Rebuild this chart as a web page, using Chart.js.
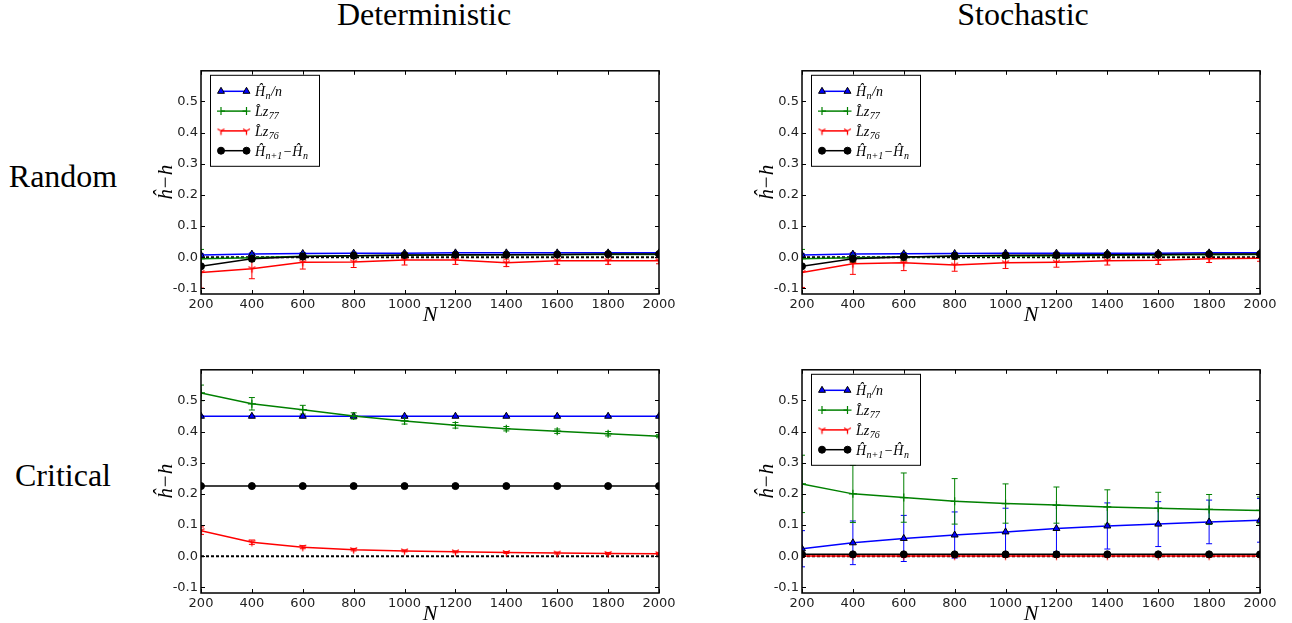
<!DOCTYPE html>
<html>
<head>
<meta charset="utf-8">
<script src="https://cdn.jsdelivr.net/npm/chart.js@4.4.1/dist/chart.umd.min.js"></script>
<style>
  body { margin: 0; background: #fff; width: 1292px; height: 623px; position: relative; overflow: hidden; }
  .lbl { position: absolute; font-family: "Liberation Serif", serif; font-size: 32px; line-height: 32px; white-space: nowrap; color: #000; text-align: center; }
  canvas { position: absolute; }
</style>
</head>
<body>
<div class="lbl" style="left:324px; top:-2px; width:200px;">Deterministic</div>
<div class="lbl" style="left:923px; top:-2px; width:200px;">Stochastic</div>
<div class="lbl" style="left:-7px; top:160px; width:140px;">Random</div>
<div class="lbl" style="left:-7px; top:459px; width:140px;">Critical</div>

<canvas id="c0"></canvas>
<canvas id="c1"></canvas>
<canvas id="c2"></canvas>
<canvas id="c3"></canvas>

<script>
// --- data ---
var Ns = [200, 400, 600, 800, 1000, 1200, 1400, 1600, 1800, 2000];
var xTicks = [200, 400, 600, 800, 1000, 1200, 1400, 1600, 1800, 2000];
var yTicks = [-0.1, 0.0, 0.1, 0.2, 0.3, 0.4, 0.5];
var zeroX = [200, 2000];
var zeroY = [0, 0];

// Random, deterministic
var rdHn      = [0.007, 0.010, 0.012, 0.013, 0.013, 0.014, 0.014, 0.014, 0.014, 0.014];
var rdHnErr   = [0.004, 0.004, 0.003, 0.003, 0.002, 0.002, 0.002, 0.002, 0.002, 0.002];
var rdLz77    = [-0.005, -0.002, 0.003, 0.005, 0.006, 0.007, 0.008, 0.008, 0.009, 0.009];
var rdLz77Err = [0.030, 0.012, 0.010, 0.008, 0.007, 0.006, 0.006, 0.005, 0.005, 0.005];
var rdLz76    = [-0.049, -0.037, -0.016, -0.015, -0.009, -0.009, -0.018, -0.011, -0.011, -0.011];
var rdLz76Err = [0.050, 0.032, 0.022, 0.018, 0.016, 0.014, 0.012, 0.012, 0.012, 0.010];
var rdDiff    = [-0.029, -0.005, 0.002, 0.005, 0.007, 0.008, 0.008, 0.009, 0.010, 0.010];
var rdDiffErr = [0.003, 0.003, 0.002, 0.002, 0.002, 0.002, 0.002, 0.002, 0.002, 0.002];

// Random, stochastic
var rsHn      = [0.007, 0.010, 0.011, 0.012, 0.013, 0.013, 0.013, 0.013, 0.014, 0.014];
var rsHnErr   = [0.004, 0.004, 0.003, 0.003, 0.002, 0.002, 0.002, 0.002, 0.002, 0.002];
var rsLz77    = [-0.005, -0.002, 0.001, 0.003, 0.004, 0.005, 0.006, 0.007, 0.008, 0.009];
var rsLz77Err = [0.030, 0.015, 0.012, 0.010, 0.008, 0.007, 0.006, 0.006, 0.005, 0.005];
var rsLz76    = [-0.049, -0.021, -0.018, -0.025, -0.018, -0.016, -0.011, -0.010, -0.005, -0.003];
var rsLz76Err = [0.048, 0.034, 0.025, 0.020, 0.018, 0.016, 0.014, 0.013, 0.012, 0.010];
var rsDiff    = [-0.029, -0.005, 0.001, 0.004, 0.006, 0.007, 0.008, 0.009, 0.010, 0.010];
var rsDiffErr = [0.003, 0.003, 0.002, 0.002, 0.002, 0.002, 0.002, 0.002, 0.002, 0.002];

// Critical, deterministic
var cdHn      = [0.449, 0.449, 0.449, 0.449, 0.449, 0.449, 0.449, 0.449, 0.449, 0.449];
var cdHnErr   = [0.002, 0.002, 0.002, 0.002, 0.002, 0.002, 0.002, 0.002, 0.002, 0.002];
var cdLz77    = [0.524, 0.489, 0.470, 0.450, 0.434, 0.420, 0.409, 0.401, 0.393, 0.385];
var cdLz77Err = [0.025, 0.020, 0.014, 0.010, 0.010, 0.009, 0.007, 0.007, 0.007, 0.005];
var cdLz76    = [0.082, 0.045, 0.029, 0.021, 0.017, 0.014, 0.012, 0.010, 0.009, 0.008];
var cdLz76Err = [0.012, 0.007, 0.005, 0.004, 0.003, 0.003, 0.003, 0.003, 0.003, 0.003];
var cdDiff    = [0.225, 0.225, 0.225, 0.225, 0.225, 0.225, 0.225, 0.225, 0.225, 0.225];
var cdDiffErr = [0.001, 0.001, 0.001, 0.001, 0.001, 0.001, 0.001, 0.001, 0.001, 0.001];

// Critical, stochastic
var csHn      = [0.024, 0.043, 0.057, 0.068, 0.078, 0.089, 0.097, 0.103, 0.110, 0.115];
var csHnErr   = [0.058, 0.070, 0.074, 0.074, 0.076, 0.074, 0.074, 0.072, 0.070, 0.070];
var csLz77    = [0.232, 0.200, 0.188, 0.176, 0.169, 0.164, 0.158, 0.154, 0.150, 0.147];
var csLz77Err = [0.092, 0.092, 0.079, 0.073, 0.063, 0.058, 0.055, 0.051, 0.048, 0.043];
var csLz76    = [0.001, 0.001, 0.001, 0.001, 0.001, 0.001, 0.001, 0.001, 0.001, 0.001];
var csLz76Err = [0.005, 0.005, 0.005, 0.005, 0.005, 0.005, 0.005, 0.005, 0.005, 0.005];
var csDiff    = [0.006, 0.006, 0.006, 0.006, 0.006, 0.006, 0.006, 0.006, 0.006, 0.006];
var csDiffErr = [0.001, 0.001, 0.001, 0.001, 0.001, 0.001, 0.001, 0.001, 0.001, 0.001];

var seriesNames = ['Ĥn/n', 'L̂z77', 'L̂z76', 'Ĥn+1−Ĥn'];
// legend text pieces: [text, subscript?]
var legendLabels = [
    [['Ĥ', 0], ['n', 1], ['/n', 0]],
    [['L\u0302z', 0], ['77', 1]],
    [['L\u0302z', 0], ['76', 1]],
    [['Ĥ', 0], ['n+1', 1], ['−Ĥ', 0], ['n', 1]]
];

// --- layout ---
var PLOT_W = 458, PLOT_H = 224;
var Y_W = 50, X_H = 34, PAD_T = 10, PAD_R = 24;

function triDown(color, r) {
    var c = document.createElement('canvas');
    var s = Math.ceil(r * 2 + 3);
    c.width = s; c.height = s;
    var g = c.getContext('2d');
    var m = s / 2;
    g.strokeStyle = color;
    g.lineWidth = 1.3;
    g.beginPath();
    g.moveTo(m, m); g.lineTo(m, m + r);
    g.moveTo(m, m); g.lineTo(m - r * 0.866, m - r * 0.5);
    g.moveTo(m, m); g.lineTo(m + r * 0.866, m - r * 0.5);
    g.stroke();
    return c;
}

var styles = [
    {color: '#0000ff', pointStyle: 'triangle', radius: 4, fill: '#0000ff', edge: '#000000', edgeW: 1},
    {color: '#008000', pointStyle: 'cross', radius: 4, fill: '#008000', edge: '#008000', edgeW: 1.2},
    {color: '#ff0000', pointStyle: triDown('#ff0000', 4), radius: 4, fill: '#ff0000', edge: '#ff0000', edgeW: 1},
    {color: '#000000', pointStyle: 'circle', radius: 3.5, fill: '#000000', edge: '#000000', edgeW: 1}
];

function pts(ys) {
    return Ns.map(function(n, i) { return {x: n, y: ys[i]}; });
}

// error bars drawn under the lines
var errorBars = {
    id: 'errorBars',
    beforeDatasetsDraw: function(chart) {
        var ctx = chart.ctx, a = chart.chartArea, ys = chart.scales.y;
        ctx.save();
        ctx.beginPath();
        ctx.rect(a.left, a.top, a.right - a.left, a.bottom - a.top);
        ctx.clip();
        chart.data.datasets.forEach(function(ds, i) {
            if (!ds.errors) return;
            var meta = chart.getDatasetMeta(i);
            ctx.strokeStyle = ds.borderColor;
            ctx.lineWidth = 1;
            meta.data.forEach(function(p, j) {
                var v = ds.data[j].y, e = ds.errors[j];
                var y1 = ys.getPixelForValue(v - e), y2 = ys.getPixelForValue(v + e);
                ctx.beginPath();
                ctx.moveTo(p.x, y1); ctx.lineTo(p.x, y2);
                ctx.moveTo(p.x - 3, y1); ctx.lineTo(p.x + 3, y1);
                ctx.moveTo(p.x - 3, y2); ctx.lineTo(p.x + 3, y2);
                ctx.stroke();
            });
        });
        ctx.restore();
    }
};

// matplotlib-like frame with inward ticks on all sides
var frame = {
    id: 'frame',
    afterDatasetsDraw: function(chart) {
        var ctx = chart.ctx, a = chart.chartArea, xs = chart.scales.x, ys = chart.scales.y;
        ctx.save();
        ctx.strokeStyle = '#000';
        ctx.lineWidth = 1;
        ctx.beginPath();
        xTicks.forEach(function(v) {
            var px = Math.round(xs.getPixelForValue(v)) + 0.5;
            ctx.moveTo(px, a.bottom); ctx.lineTo(px, a.bottom - 4);
            ctx.moveTo(px, a.top); ctx.lineTo(px, a.top + 4);
        });
        yTicks.forEach(function(v) {
            var py = Math.round(ys.getPixelForValue(v)) + 0.5;
            ctx.moveTo(a.left, py); ctx.lineTo(a.left + 4, py);
            ctx.moveTo(a.right, py); ctx.lineTo(a.right - 4, py);
        });
        ctx.stroke();
        ctx.lineWidth = 1.5;
        ctx.strokeRect(a.left, a.top, a.right - a.left, a.bottom - a.top);
        ctx.restore();
    }
};

var mplLegend = {
    id: 'mplLegend',
    afterDraw: function(chart, args, opts) {
        if (!opts.display) return;
        var ctx = chart.ctx, a = chart.chartArea;
        var bx = a.left + 9, by = a.top + 4;
        ctx.save();
        ctx.fillStyle = '#fff';
        ctx.fillRect(bx, by, 109, 91);
        ctx.strokeStyle = '#000';
        ctx.lineWidth = 1;
        ctx.strokeRect(bx + 0.5, by + 0.5, 109, 91);
        legendLabels.forEach(function(parts, i) {
            var st = styles[i];
            var y = a.top + 20.5 + i * 19.8;
            var x0 = a.left + 20, x1 = a.left + 45.5;
            ctx.strokeStyle = st.color;
            ctx.lineWidth = 1.5;
            ctx.beginPath();
            ctx.moveTo(x0, y); ctx.lineTo(x1, y);
            ctx.stroke();
            ctx.fillStyle = st.fill;
            ctx.strokeStyle = st.edge;
            ctx.lineWidth = st.edgeW;
            [x0, x1].forEach(function(px) {
                Chart.helpers.drawPoint(ctx, {pointStyle: st.pointStyle, radius: st.radius, borderWidth: st.edgeW, rotation: 0}, px, y);
            });
            var tx = a.left + 54;
            ctx.fillStyle = '#000';
            ctx.textBaseline = 'alphabetic';
            parts.forEach(function(p) {
                ctx.font = p[1] ? 'italic 10px "Liberation Serif"' : 'italic 14px "Liberation Serif"';
                var ty = p[1] ? y + 8 : y + 5;
                ctx.fillText(p[0], tx, ty);
                tx += ctx.measureText(p[0]).width + 0.5;
            });
        });
        ctx.restore();
    }
};

function makeChart(id, left, top, vals, errs, showLegend) {
    var cv = document.getElementById(id);
    cv.width = Y_W + PLOT_W + PAD_R;
    cv.height = PAD_T + PLOT_H + X_H;
    cv.style.left = (left - Y_W) + 'px';
    cv.style.top = (top - PAD_T) + 'px';

    var datasets = vals.map(function(v, i) {
        var st = styles[i];
        return {
            label: seriesNames[i],
            data: pts(v),
            errors: errs[i],
            borderColor: st.color,
            borderWidth: 1.5,
            pointStyle: st.pointStyle,
            pointRadius: st.radius,
            pointBackgroundColor: st.fill,
            pointBorderColor: st.edge,
            pointBorderWidth: st.edgeW,
            tension: 0,
            fill: false,
            clip: 0,
            order: 4 - i
        };
    });
    datasets.push({
        label: 'h',
        data: zeroX.map(function(x, i) { return {x: x, y: zeroY[i]}; }),
        borderColor: '#000',
        borderWidth: 2,
        borderDash: [3, 2],
        pointRadius: 0,
        fill: false,
        clip: 0,
        order: 5
    });

    return new Chart(cv, {
        type: 'line',
        data: {datasets: datasets},
        options: {
            responsive: false,
            animation: false,
            layout: {padding: {top: PAD_T, right: PAD_R, left: 0, bottom: 0}},
            plugins: {
                legend: {display: false},
                tooltip: {enabled: false},
                mplLegend: {display: showLegend}
            },
            scales: {
                x: {
                    type: 'linear', min: 200, max: 2000,
                    grid: {display: false, drawTicks: false}, border: {display: false},
                    afterBuildTicks: function(s) { s.ticks = xTicks.map(function(v) { return {value: v}; }); },
                    afterFit: function(s) { s.height = X_H; },
                    ticks: {autoSkip: false, maxRotation: 0, padding: 3, color: '#222',
                            font: {family: 'DejaVu Sans', size: 13},
                            callback: function(v) { return String(v); }},
                    title: {display: true, text: 'N', color: '#000',
                            font: {family: 'Liberation Serif', style: 'italic', size: 22, lineHeight: 1},
                            padding: {top: 0, bottom: 2}}
                },
                y: {
                    type: 'linear', min: -0.118, max: 0.598,
                    grid: {display: false, drawTicks: false}, border: {display: false},
                    afterBuildTicks: function(s) { s.ticks = yTicks.map(function(v) { return {value: v}; }); },
                    afterFit: function(s) { s.width = Y_W; },
                    ticks: {padding: 3, color: '#222',
                            font: {family: 'DejaVu Sans', size: 13},
                            callback: function(v) { return v.toFixed(1); }},
                    title: {display: true, text: 'ĥ−h', color: '#000',
                            font: {family: 'Liberation Serif', style: 'italic', size: 21, lineHeight: 1},
                            padding: {top: 5, bottom: 0}}
                }
            }
        },
        plugins: [errorBars, frame, mplLegend]
    });
}

makeChart('c0', 201, 70, [rdHn, rdLz77, rdLz76, rdDiff], [rdHnErr, rdLz77Err, rdLz76Err, rdDiffErr], true);
makeChart('c1', 802, 70, [rsHn, rsLz77, rsLz76, rsDiff], [rsHnErr, rsLz77Err, rsLz76Err, rsDiffErr], true);
makeChart('c2', 201, 369, [cdHn, cdLz77, cdLz76, cdDiff], [cdHnErr, cdLz77Err, cdLz76Err, cdDiffErr], false);
makeChart('c3', 802, 369, [csHn, csLz77, csLz76, csDiff], [csHnErr, csLz77Err, csLz76Err, csDiffErr], true);
</script>
</body>
</html>
